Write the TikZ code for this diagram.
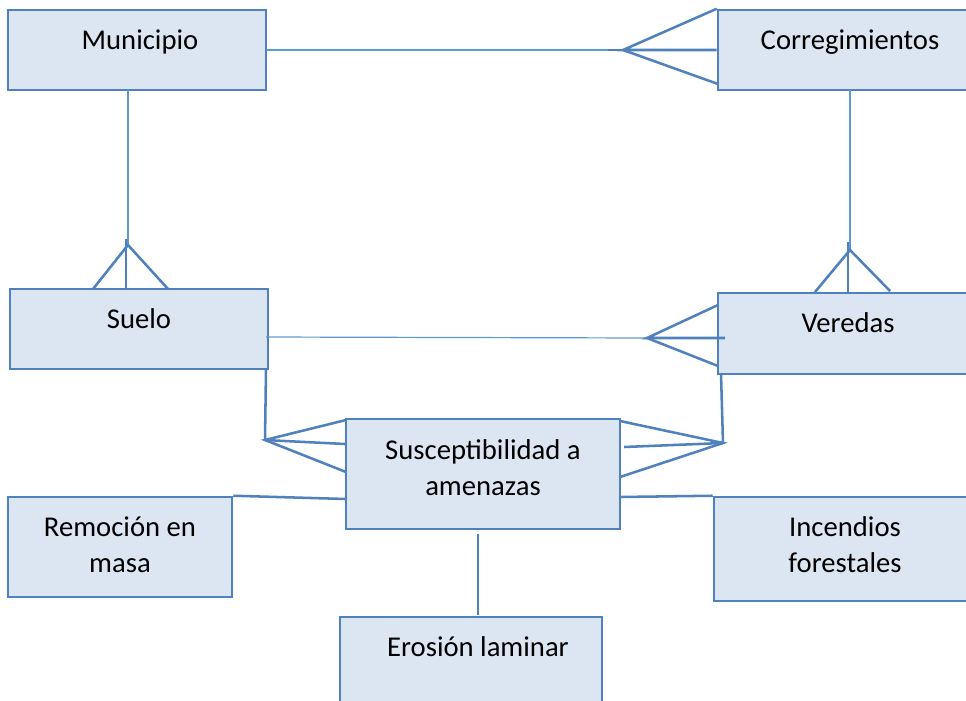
\documentclass[tikz,border=0pt]{standalone}
\usepackage{fontspec}
\setmainfont{Carlito}
\definecolor{edge}{HTML}{4F81BD}
\definecolor{thin}{HTML}{5B9BD5}
\definecolor{boxfill}{HTML}{DCE6F2}
\tikzset{
  ent/.style={draw=edge, fill=boxfill, line width=1.9pt, inner sep=0pt, rectangle},
  lbl/.style={font=\fontsize{21.5}{27}\selectfont, align=center, inner sep=0pt, text=black},
  thick link/.style={draw=edge, line width=1.9pt},
  thin link/.style={draw=thin, line width=0.9pt},
}
\begin{document}
\begin{tikzpicture}[x=0.75pt, y=-0.75pt]
\useasboundingbox (0,0) rectangle (966,700);
% boxes
\node[ent, minimum width=193.5pt, minimum height=60pt] (mun) at (137,50) {};
\node[ent, minimum width=189pt, minimum height=60pt] (cor) at (844,50) {};
\node[ent, minimum width=193.5pt, minimum height=60pt] (sue) at (139,329) {};
\node[ent, minimum width=189pt, minimum height=60.75pt] (ver) at (844,333.5) {};
\node[ent, minimum width=205.5pt, minimum height=82.5pt] (sus) at (483,474) {};
\node[ent, minimum width=168pt, minimum height=75pt] (rem) at (120,547) {};
\node[ent, minimum width=192pt, minimum height=78pt] (inc) at (842,549) {};
\node[ent, minimum width=196.5pt, minimum height=66pt] (ero) at (471,661) {};
% labels
\node[lbl, anchor=base] (tmun) at (140,49) {Municipio};
\node[lbl, anchor=base] (tcor) at (850,49) {Corregimientos};
\node[lbl, anchor=base] (tsue) at (139,328) {Suelo};
\node[lbl, anchor=base] (tver) at (848,332) {Veredas};
\node[lbl] (tsus) at (483,468) {Susceptibilidad a\\amenazas};
\node[lbl] (trem) at (120,545) {Remoción en\\masa};
\node[lbl] (tinc) at (845,545) {Incendios\\forestales};
\node[lbl, anchor=base] (tero) at (478,656) {Erosión laminar};
% Municipio -- Corregimientos
\coordinate (v1) at (623,50);
\draw[thin link] (mun.east) -- (v1);
\draw[thick link] (608,50) -- (v1);
\draw[thick link] (cor.north west) -- (v1) -- (cor.west);
\draw[thick link] (v1) -- (718,84);
% Municipio -- Suelo
\coordinate (v2) at (128,245);
\draw[thin link] (128,90) -- (v2);
\draw[thick link] (126,239) -- (126,289);
\draw[thick link] (93,289) -- (v2) -- (168,289);
% Corregimientos -- Veredas
\coordinate (v3) at (850,250);
\draw[thin link] (850,90) -- (v3);
\draw[thick link] (848,242) -- (848,293);
\draw[thick link] (815,292) -- (v3) -- (890,291);
% Suelo -- Veredas
\coordinate (v4) at (647,338);
\draw[thin link] (266,337) -- (v4);
\draw[thick link] (718,305) -- (v4) -- (725,338);
\draw[thick link] (v4) -- (718,366);
% Suelo -- Susceptibilidad
\coordinate (v5) at (265,440);
\draw[thick link] (266,369) -- (v5);
\draw[thick link] (346,420) -- (v5) -- (346,472);
\draw[thick link] (v5) -- (345,444);
% Veredas -- Susceptibilidad
\coordinate (v6) at (723,443);
\draw[thick link] (721,374) -- (v6);
\draw[thick link] (620,421) -- (v6) -- (620,477);
\draw[thick link] (v6) -- (624,447);
% attributes
\draw[thick link] (rem.north east) -- (346,499);
\draw[thick link] (620,497) -- (inc.north west);
\draw[thick link] (478,534) -- (478,615);
\end{tikzpicture}
\end{document}
